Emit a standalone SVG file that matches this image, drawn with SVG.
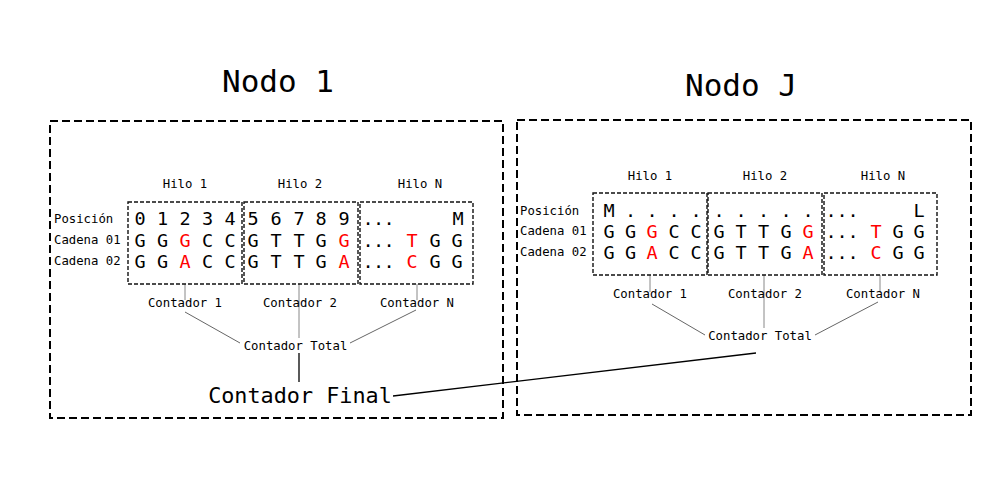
<svg xmlns="http://www.w3.org/2000/svg" width="1000" height="500" viewBox="0 0 1000 500">
<style>
text{font-family:"DejaVu Sans Mono","Liberation Mono",monospace;fill:#000}
.title{font-size:31px;text-anchor:middle}
.lbl{font-size:12.3px}
.hl{font-size:12.3px;text-anchor:middle}
.big{font-size:18.5px;text-anchor:middle}
.r{fill:#f00}
.outer{fill:none;stroke:#000;stroke-width:2;stroke-dasharray:8 4}
.inner{fill:none;stroke:#111;stroke-width:1.4;stroke-dasharray:4 2}
.tick{stroke:#888;stroke-width:1;fill:none}
.diag{stroke:#666;stroke-width:1;fill:none}
.blk{stroke:#000;stroke-width:1.3;fill:none}
.fin{font-size:21.8px;text-anchor:middle}
</style>
<rect width="1000" height="500" fill="#fff"/>

<g id="connectors">
  <line class="tick" x1="185" y1="284" x2="185" y2="300"/>
  <line class="tick" x1="299" y1="284" x2="299" y2="338"/>
  <line class="tick" x1="417" y1="284" x2="417" y2="300"/>
  <line class="diag" x1="185" y1="312" x2="240" y2="343"/>
  <line class="diag" x1="416" y1="310" x2="350" y2="343"/>
  <line class="blk" x1="299" y1="353" x2="299" y2="382"/>
  <line class="tick" x1="650" y1="275" x2="650" y2="292"/>
  <line class="tick" x1="764" y1="275" x2="764" y2="328"/>
  <line class="tick" x1="880" y1="275" x2="880" y2="292"/>
  <line class="diag" x1="652" y1="304" x2="705" y2="335"/>
  <line class="diag" x1="878" y1="302" x2="815" y2="335"/>
  <line class="blk" x1="393" y1="396" x2="756" y2="353"/>
</g>

<g id="node1">
  <text class="title" x="278" y="92">Nodo 1</text>
  <rect class="outer" x="50" y="121" width="453" height="297"/>
  <text class="hl" x="185" y="188">Hilo 1</text>
  <text class="hl" x="300" y="188">Hilo 2</text>
  <text class="hl" x="420" y="188">Hilo N</text>
  <text class="lbl" x="54" y="223">Posición</text>
  <text class="lbl" x="54" y="244">Cadena 01</text>
  <text class="lbl" x="54" y="265">Cadena 02</text>
  <rect class="inner" x="128" y="202" width="114" height="82"/>
  <rect class="inner" x="244" y="202" width="114" height="82"/>
  <rect class="inner" x="360" y="202" width="113" height="82"/>
  <text class="big" x="140 162.5 185 207.5 230" y="225">01234</text>
  <text class="big" x="140 162.5" y="246.5">GG<tspan class="r" x="185">G</tspan><tspan x="207.5 230">CC</tspan></text>
  <text class="big" x="140 162.5" y="268">GG<tspan class="r" x="185">A</tspan><tspan x="207.5 230">CC</tspan></text>
  <text class="big" x="253 276 299 321 344" y="225">56789</text>
  <text class="big" x="253 276 299 321" y="246.5">GTTG<tspan class="r" x="344">G</tspan></text>
  <text class="big" x="253 276 299 321" y="268">GTTG<tspan class="r" x="344">A</tspan></text>
  <text class="big" x="368 378.5 389 458" y="225">...M</text>
  <text class="big" x="368 378.5 389" y="246.5">...<tspan class="r" x="412">T</tspan><tspan x="435 457">GG</tspan></text>
  <text class="big" x="368 378.5 389" y="268">...<tspan class="r" x="412">C</tspan><tspan x="435 457">GG</tspan></text>
  <text class="hl" x="185" y="307">Contador 1</text>
  <text class="hl" x="300" y="307">Contador 2</text>
  <text class="hl" x="417" y="307">Contador N</text>
  <text class="hl" x="295.5" y="350">Contador Total</text>
  <text class="fin" x="300" y="403">Contador Final</text>
</g>

<g id="nodeJ">
  <text class="title" x="741" y="96">Nodo J</text>
  <rect class="outer" x="517" y="120" width="454" height="295"/>
  <text class="hl" x="650" y="180">Hilo 1</text>
  <text class="hl" x="765" y="180">Hilo 2</text>
  <text class="hl" x="883" y="180">Hilo N</text>
  <text class="lbl" x="520" y="215">Posición</text>
  <text class="lbl" x="520" y="235">Cadena 01</text>
  <text class="lbl" x="520" y="256">Cadena 02</text>
  <rect class="inner" x="593" y="193" width="114" height="82"/>
  <rect class="inner" x="708" y="193" width="114" height="82"/>
  <rect class="inner" x="824" y="193" width="113" height="82"/>
  <text class="big" x="609 630.5 652 674 696" y="217">M....</text>
  <text class="big" x="609 630.5" y="238">GG<tspan class="r" x="652">G</tspan><tspan x="674 696">CC</tspan></text>
  <text class="big" x="609 630.5" y="259">GG<tspan class="r" x="652">A</tspan><tspan x="674 696">CC</tspan></text>
  <text class="big" x="719 741 763.5 786 808" y="217">.....</text>
  <text class="big" x="719 741 763.5 786" y="238">GTTG<tspan class="r" x="808">G</tspan></text>
  <text class="big" x="719 741 763.5 786" y="259">GTTG<tspan class="r" x="808">A</tspan></text>
  <text class="big" x="831 842 853 919" y="217">...L</text>
  <text class="big" x="831 842 853" y="238">...<tspan class="r" x="876">T</tspan><tspan x="898 919">GG</tspan></text>
  <text class="big" x="831 842 853" y="259">...<tspan class="r" x="876">C</tspan><tspan x="898 919">GG</tspan></text>
  <text class="hl" x="650" y="298">Contador 1</text>
  <text class="hl" x="765" y="298">Contador 2</text>
  <text class="hl" x="883" y="298">Contador N</text>
  <text class="hl" x="760" y="340">Contador Total</text>
</g>
</svg>
